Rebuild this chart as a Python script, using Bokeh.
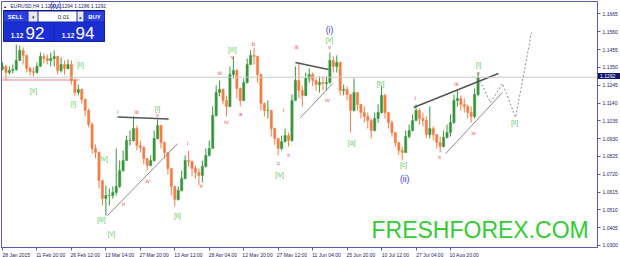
from bokeh.plotting import figure
from bokeh.models import Range1d, FixedTicker, Span, Label, BoxAnnotation, ColumnDataSource, PrintfTickFormatter, Div
from bokeh.layouts import column
from bokeh.embed import file_html
from bokeh.resources import INLINE
from bokeh.core.properties import value

FONT = "Liberation Sans"

# ---------------- data (EURUSD H4) ----------------
first_open = 1.1340
close = [
    1.1356, 1.1320, 1.1332, 1.1338, 1.1391, 1.1450, 1.1421, 1.1344, 1.1326, 1.1320,
    1.1356, 1.1415, 1.1403, 1.1391, 1.1403, 1.1415, 1.1332, 1.1367, 1.1344, 1.1367,
    1.1273, 1.1202, 1.1220, 1.1161, 1.1096, 1.1013, 1.0872, 1.0848, 1.0683, 1.0577,
    1.0595, 1.0595, 1.0613, 1.0648, 1.0742, 1.0801, 1.0919, 1.0919, 1.0990, 1.0889,
    1.0878, 1.0813, 1.0772, 1.0801, 1.0931, 1.1007, 1.0907, 1.0848, 1.0754, 1.0648,
    1.0571, 1.0625, 1.0695, 1.0801, 1.0795, 1.0754, 1.0730, 1.0713, 1.0766, 1.0831,
    1.0872, 1.1067, 1.1202, 1.1220, 1.1155, 1.1120, 1.1308, 1.1332, 1.1226, 1.1155,
    1.1261, 1.1367, 1.1421, 1.1415, 1.1308, 1.1137, 1.1096, 1.1096, 1.0990, 1.0931,
    1.0872, 1.0913, 1.0948, 1.0919, 1.1155, 1.1273, 1.1214, 1.1185, 1.1285, 1.1308,
    1.1273, 1.1249, 1.1261, 1.1255, 1.1261, 1.1391, 1.1356, 1.1379, 1.1214, 1.1220,
    1.1190, 1.1096, 1.1202, 1.1132, 1.1084, 1.1061, 1.1037, 1.0978, 1.1049, 1.1084,
    1.1185, 1.1084, 1.1025, 1.0966, 1.0907, 1.0860, 1.0848, 1.0942, 1.0978, 1.1037,
    1.1096, 1.1049, 1.1037, 1.0954, 1.0990, 1.0954, 1.0907, 1.0884, 1.0937, 1.0966,
    1.1025, 1.1155, 1.1167, 1.1132, 1.1120, 1.1084, 1.1061, 1.1190, 1.1292,
]
high = [
    1.1379, 1.1367, 1.1356, 1.1367, 1.1485, 1.1479, 1.1468, 1.1426, 1.1356, 1.1350,
    1.1379, 1.1438, 1.1432, 1.1426, 1.1438, 1.1450, 1.1420, 1.1409, 1.1391, 1.1397,
    1.1391, 1.1285, 1.1249, 1.1226, 1.1167, 1.1108, 1.1025, 1.0895, 1.0855, 1.0683,
    1.0654, 1.0636, 1.0648, 1.0872, 1.0801, 1.0860, 1.0948, 1.0978, 1.1061, 1.1007,
    1.0919, 1.0885, 1.0813, 1.0831, 1.0978, 1.1043, 1.1012, 1.0912, 1.0848, 1.0754,
    1.0652, 1.0648, 1.0742, 1.0831, 1.0860, 1.0801, 1.0772, 1.0754, 1.0801, 1.0872,
    1.0919, 1.1120, 1.1243, 1.1273, 1.1226, 1.1185, 1.1356, 1.1415, 1.1340, 1.1232,
    1.1285, 1.1403, 1.1450, 1.1468, 1.1420, 1.1312, 1.1143, 1.1155, 1.1100, 1.0995,
    1.0931, 1.0948, 1.0990, 1.0966, 1.1190, 1.1356, 1.1379, 1.1243, 1.1320, 1.1344,
    1.1320, 1.1285, 1.1297, 1.1297, 1.1297, 1.1438, 1.1415, 1.1421, 1.1385, 1.1249,
    1.1238, 1.1190, 1.1285, 1.1202, 1.1132, 1.1120, 1.1084, 1.1049, 1.1084, 1.1132,
    1.1238, 1.1195, 1.1084, 1.1037, 1.0966, 1.0907, 1.0884, 1.0978, 1.1013, 1.1073,
    1.1132, 1.1108, 1.1084, 1.1061, 1.1120, 1.1002, 1.0954, 1.0942, 1.0978, 1.1013,
    1.1073, 1.1190, 1.1214, 1.1185, 1.1167, 1.1132, 1.1120, 1.1226, 1.1320,
]
low = [
    1.1332, 1.1273, 1.1308, 1.1314, 1.1330, 1.1391, 1.1367, 1.1320, 1.1303, 1.1297,
    1.1314, 1.1356, 1.1373, 1.1367, 1.1356, 1.1356, 1.1308, 1.1320, 1.1308, 1.1338,
    1.1249, 1.1179, 1.1185, 1.1137, 1.1061, 1.0996, 1.0842, 1.0813, 1.0636, 1.0536,
    1.0477, 1.0536, 1.0577, 1.0595, 1.0640, 1.0735, 1.0801, 1.0889, 1.0912, 1.0860,
    1.0848, 1.0778, 1.0742, 1.0766, 1.0795, 1.0925, 1.0872, 1.0813, 1.0719, 1.0595,
    1.0530, 1.0565, 1.0618, 1.0690, 1.0766, 1.0707, 1.0695, 1.0654, 1.0671, 1.0760,
    1.0825, 1.0872, 1.1060, 1.1179, 1.1132, 1.1061, 1.1115, 1.1285, 1.1167, 1.1120,
    1.1150, 1.1255, 1.1367, 1.1367, 1.1261, 1.1096, 1.1061, 1.1049, 1.0942, 1.0895,
    1.0831, 1.0860, 1.0907, 1.0884, 1.0912, 1.1155, 1.1167, 1.1120, 1.1180, 1.1261,
    1.1238, 1.1214, 1.1202, 1.1214, 1.1214, 1.1255, 1.1320, 1.1320, 1.1185, 1.1185,
    1.1155, 1.0966, 1.1090, 1.1096, 1.1049, 1.1025, 1.0990, 1.0931, 1.0972, 1.1025,
    1.1078, 1.1049, 1.0990, 1.0942, 1.0884, 1.0836, 1.0801, 1.0848, 1.0931, 1.0972,
    1.1037, 1.1013, 1.1002, 1.0931, 1.0931, 1.0919, 1.0872, 1.0848, 1.0878, 1.0931,
    1.0942, 1.1018, 1.1120, 1.1096, 1.1084, 1.1049, 1.1025, 1.1049, 1.1179,
]
current_price = 1.1292

y_ticks = [1.1665, 1.1560, 1.1455, 1.1350, 1.1245, 1.1140, 1.1035,
           1.0930, 1.0825, 1.0720, 1.0615, 1.0510, 1.0405, 1.0300]
x_tick_bars = [0, 10, 20, 30, 40, 50, 60, 70, 80, 90, 100, 110, 120, 130]
x_tick_labels = ["28 Jan 2015", "11 Feb 20:00", "26 Feb 12:00", "13 Mar 04:00",
                 "27 Mar 20:00", "13 Apr 12:00", "28 Apr 04:00", "12 May 20:00",
                 "27 May 12:00", "11 Jun 04:00", "25 Jun 20:00", "10 Jul 12:00",
                 "27 Jul 04:00", "10 Aug 20:00"]

# wave labels (bar position, price)
green_text = ["[ii]", "[x]", "[i]", "[i]", "[iv]", "[iii]", "[v]", "[ii]",
              "[iii]", "[iv]", "[v]", "[a]", "[b]", "[c]", "[i]", "[ii]"]
green_x = [22.6, 9.0, 20.6, 45.0, 29.3, 28.7, 31.6, 50.8,
           66.7, 80.4, 94.9, 101.3, 109.7, 116.4, 138.1, 148.6]
green_y = [1.1367, 1.1214, 1.1137, 1.1108, 1.0813, 1.0453, 1.0371, 1.0477,
           1.1456, 1.0719, 1.1515, 1.0907, 1.1255, 1.0778, 1.1367, 1.1025]

red_text = ["i", "iii", "v", "iv", "ii", "i", "ii", "iii", "iv", "v", "a", "b", "c",
            "i", "ii", "iii", "iv", "v", "i", "ii", "iii", "iv", "v"]
red_x = [33.4, 38.9, 45.0, 42.1, 35.1, 53.7, 57.7, 63.0, 65.0, 66.7, 69.1, 72.8, 80.1,
         81.5, 83.0, 85.3, 94.3, 94.9, 119.8, 126.8, 131.7, 136.7, 138.1]
red_y = [1.1090, 1.1090, 1.1067, 1.0683, 1.0542, 1.0907, 1.0648, 1.1320, 1.1031, 1.1409,
         1.1078, 1.1491, 1.0789, 1.1096, 1.0831, 1.1468, 1.1155, 1.1473, 1.1167, 1.0819,
         1.1255, 1.0966, 1.1320]

blue_text = ["(i)", "(ii)", "(iv)"]
blue_x = [94.9, 116.7, 15.4]
blue_y = [1.1568, 1.0695, 1.1715]

# trend lines: upper (dark) and lower (light)
upper_x0 = [33.4, 85.0, 119.3]
upper_y0 = [1.1058, 1.1379, 1.1114]
upper_x1 = [48.2, 94.6, 143.9]
upper_y1 = [1.1046, 1.1338, 1.1314]
lower_x0 = [30.5, 86.5, 128.6]
lower_y0 = [1.0477, 1.1055, 1.0842]
lower_x1 = [50.8, 95.8, 145.1]
lower_y1 = [1.0901, 1.1255, 1.1202]

support_x = [-0.3, 22.3]
support_y = [1.1276, 1.1276]

projection_x = [138.1, 141.6, 145.1, 148.9, 153.5]
projection_y = [1.1292, 1.1143, 1.1255, 1.1055, 1.1556]

# ---------------- figure ----------------
p = figure(frame_width=596, frame_height=246,
           min_border_left=1, min_border_top=1, min_border_right=0, min_border_bottom=0,
           x_range=Range1d(-0.29, 172.66), y_range=Range1d(1.02882, 1.17387),
           y_axis_location="right", output_backend="svg", toolbar_location=None)
p.grid.visible = False
p.background_fill_color = "white"
p.border_fill_color = "white"
p.outline_line_color = "#5A5AB4"
p.outline_line_width = 1

AX = "#5A5AB4"
TXT = "#1E1E5A"
yax = p.yaxis[0]
yax.ticker = FixedTicker(ticks=y_ticks)
yax.formatter = PrintfTickFormatter(format="%.4f")
yax.axis_line_color = AX
yax.major_tick_line_color = AX
yax.major_tick_out = 3
yax.major_tick_in = 0
yax.minor_tick_out = 0
yax.major_label_standoff = 2
yax.major_label_text_font = FONT
yax.major_label_text_font_size = "5px"
yax.major_label_text_color = TXT

xax = p.xaxis[0]
label_offset = 4
xax.ticker = FixedTicker(ticks=[b + label_offset for b in x_tick_bars], minor_ticks=x_tick_bars)
xax.major_label_overrides = {b + label_offset: t for b, t in zip(x_tick_bars, x_tick_labels)}
xax.axis_line_color = AX
xax.major_tick_out = 0
xax.major_tick_in = 0
xax.minor_tick_line_color = AX
xax.minor_tick_out = 3
xax.minor_tick_in = 0
xax.major_label_standoff = 1
xax.major_label_text_font = FONT
xax.major_label_text_font_size = "5px"
xax.major_label_text_color = TXT

# current price line
p.add_layout(Span(location=current_price, dimension="width", line_color="#C8C8C8", line_width=1))
# support line
p.line(support_x, support_y, line_color="#F08080", line_width=1)

# candles
opens = [first_open] + close[:-1]
idx = list(range(len(close)))
UP, DOWN = "#36963A", "#F57D45"
colors = [UP if c >= o else DOWN for o, c in zip(opens, close)]
src = ColumnDataSource(dict(x=idx, o=opens, c=close, h=high, l=low,
                            top=[max(o, c) for o, c in zip(opens, close)],
                            bot=[min(o, c) for o, c in zip(opens, close)],
                            col=colors))
p.segment(x0="x", y0="h", x1="x", y1="l", line_color="col", line_width=1, source=src)
p.vbar(x="x", top="top", bottom="bot", width=0.65, fill_color="col", line_color="col",
       line_width=0.5, source=src)

# trend lines and projection
p.segment(upper_x0, upper_y0, upper_x1, upper_y1, line_color="#555555", line_width=1.5)
p.segment(lower_x0, lower_y0, lower_x1, lower_y1, line_color="#8C8C8C", line_width=1)
p.line(projection_x, projection_y, line_color="#8C8C8C", line_width=1, line_dash="2 2")

# wave labels
p.text(green_x, green_y, text=green_text, text_font=value(FONT), text_font_size="7px",
       text_color="#6CC86C", text_align="center", text_baseline="middle")
p.text(red_x, red_y, text=red_text, text_font=value(FONT), text_font_size="6px",
       text_color="#F04848", text_align="center", text_baseline="middle")
p.text(blue_x, blue_y, text=blue_text, text_font=value(FONT), text_font_size="8.5px",
       text_color="#3333EE", text_align="center", text_baseline="middle")

# ---------------- overlay (screen units, frame-relative) ----------------
FT, FB, FL = 1, 247, 1


def box(x0, y0, x1, y1, fill, line=None):
    p.add_layout(BoxAnnotation(left=x0 - FL, right=x1 - FL, top=FB - y0, bottom=FB - y1,
                               left_units="screen", right_units="screen",
                               top_units="screen", bottom_units="screen",
                               fill_color=fill, fill_alpha=1.0,
                               line_color=line, line_alpha=1.0 if line else 0.0, line_width=1))


def lab(x, y, text, size, color, align="center", baseline="middle", style="normal", **kw):
    p.add_layout(Label(x=x - FL, y=FB - y, x_units="screen", y_units="screen", text=text,
                       text_font=FONT, text_font_size=size, text_color=color,
                       text_align=align, text_baseline=baseline, text_font_style=style, **kw))


# header
lab(4.5, 5.5, "\u25b2", "4px", TXT)
lab(10, 5.5, "EURUSD,H4  1.1290 1.1294 1.1286 1.1292", "5px", TXT, align="left")

# trade panel
box(3, 10, 104, 41, "#1424B0", "#0A1470")
box(3, 11, 27, 21, "#2B3FE6")
box(28, 11, 37, 21, "#E8E8F0")
box(38, 11, 76, 21, "#FFFFFF")
box(77, 11, 83, 21, "#E8E8F0")
box(84, 11, 104, 21, "#2B3FE6")
box(3, 22, 53, 41, "#1B2ED2")
box(54, 22, 104, 41, "#1B2ED2")
lab(15, 16, "SELL", "6px", "white", style="bold")
lab(32.5, 16, "\u25be", "5px", "#333333")
lab(63, 16, "0.01", "6px", "#222222")
lab(80, 16, "\u25b4", "5px", "#333333")
lab(94, 16, "BUY", "6px", "white", style="bold")
lab(16.5, 35, "1.12", "6.5px", "white", style="bold")
lab(25, 32.5, "92", "17px", "white", align="left")
lab(67.5, 35, "1.12", "6.5px", "white", style="bold")
lab(75, 32.5, "94", "17px", "white", align="left")

# watermark
lab(371, 229.5, "FRESHFOREX.COM", "23px", "#33CC33", align="left", baseline="middle")

# current price tag on the price axis (outside the plot frame)
tag = Div(text="1.1292", width=22, height=6,
          styles={"position": "absolute", "left": "598px", "top": "73px",
                  "background-color": "#141470", "color": "white",
                  "font-family": FONT, "font-size": "5px", "line-height": "6px",
                  "padding-left": "2px", "margin": "0", "overflow": "hidden"})

layout = column(p, tag)
open("out.html", "w").write(file_html(layout, INLINE))
